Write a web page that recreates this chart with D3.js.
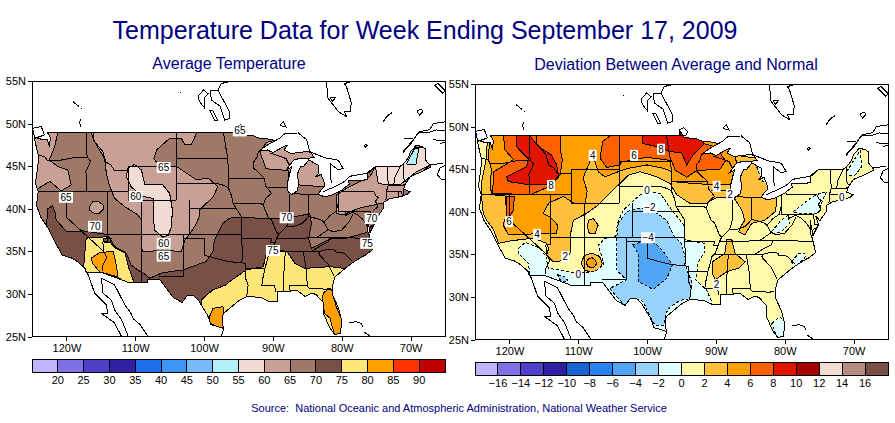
<!DOCTYPE html>
<html><head><meta charset="utf-8">
<style>html,body{margin:0;padding:0;background:#fff}svg{display:block}</style>
<script src="https://cdnjs.cloudflare.com/ajax/libs/d3/7.9.0/d3.min.js"></script>
</head><body><svg id="c" width="895" height="423"></svg>
<script>
// ---------- axis ticks ----------
const lonTicks=[-120,-110,-100,-90,-80,-70];
const latTicks=[25,30,35,40,45,50,55];
// ---------- legends ----------
const tempBreaks=[20,25,30,35,40,45,50,55,60,65,70,75,80,85,90];
const tempColors=["#c0b4ff","#8070e6","#5040c8","#3020a0","#1e6eeb","#3c96f5","#78b9fa","#b4f0fa","#f0dcd2","#c8a096","#a07868","#785046","#ffe678","#ffa000","#ff3200","#c00000"];
const devBreaks=[-16,-14,-12,-10,-8,-6,-4,-2,0,2,4,6,8,10,12,14,16];
const devColors=["#c0b4ff","#8070e6","#5040c8","#3020a0","#1464d2","#2882f0","#50a5f5","#96d2fa","#e1ffff","#fffaaa","#ffc03c","#ffa000","#ff6000","#e11400","#a50000","#f0dcd2","#b48c82","#785046"];
// ---------- geography (lon, lat) ----------
const usOutline=[[-124.7,48.4],[-123.6,48.15],[-122.8,48.1],[-122.5,47.4],[-122.3,48.3],[-122.8,49],[-95.15,49],[-95.15,49.4],[-94.6,48.7],[-93,48.6],[-92,48.3],[-90.8,48.2],[-89.6,48],[-90.6,47.6],[-92.1,46.75],[-90.8,46.9],[-90,46.6],[-88.4,47.3],[-87.9,47.47],[-88.4,46.9],[-87.4,46.5],[-86,46.6],[-85,46.75],[-84.4,46.5],[-84,46],[-84.7,45.95],[-86,45.95],[-87,45.7],[-87.6,45.1],[-88,44.6],[-87.3,44.9],[-87.6,44],[-87.9,43],[-87.8,42],[-87.2,41.65],[-86.5,42.1],[-86.2,43],[-86.5,44],[-86,44.9],[-85.5,45],[-84.8,45.75],[-83.4,45.1],[-83.4,44.1],[-83.9,43.7],[-83,44.05],[-82.5,43],[-82.5,42.6],[-83.1,42.1],[-83.4,41.7],[-82.5,41.4],[-81.5,41.6],[-80,42.2],[-78.9,42.9],[-79,43.3],[-77,43.3],[-76.2,43.5],[-76.3,44.1],[-75,45],[-71.5,45],[-71,45.3],[-70.3,46],[-70,46.7],[-69.2,47.45],[-68.3,47.3],[-67.8,47],[-67.8,45.7],[-67,44.9],[-68.5,44.3],[-70,43.8],[-70.7,43],[-71,42.3],[-70.1,42],[-70.5,41.7],[-71.5,41.4],[-73,41.2],[-74,40.7],[-74,40],[-74.9,38.95],[-75.5,39.5],[-75.1,38.5],[-75.9,37.2],[-76.3,39],[-76.3,37.5],[-76,36.9],[-75.5,35.2],[-76.5,34.6],[-78,33.9],[-79.2,33.2],[-81,32],[-81.4,30.7],[-81.3,29.8],[-80.5,28.4],[-80,26.8],[-80.2,25.4],[-81,25.2],[-81.8,26.1],[-82.7,27.8],[-82.7,29],[-83.7,29.9],[-84.3,30.1],[-85.3,29.7],[-86.5,30.4],[-88,30.3],[-89.3,30.3],[-89.4,29.1],[-90.5,29.1],[-91.8,29.6],[-93.8,29.7],[-94.8,29.3],[-96,28.5],[-97.2,27.7],[-97.4,26.8],[-97.15,25.95],[-99,26.4],[-99.5,27.5],[-100.7,29.1],[-101.5,29.8],[-102.5,29.75],[-103.2,29],[-104.5,29.6],[-106.5,31.75],[-108.2,31.75],[-108.2,31.35],[-111,31.35],[-114.8,32.5],[-117.1,32.5],[-117.3,33],[-118.4,33.8],[-119.2,34.2],[-120.6,34.55],[-121.8,36.3],[-122.5,37.5],[-123.7,39],[-124.35,40.4],[-124.1,42],[-124.5,43],[-124,46],[-124.7,48.4]];
const stateLines=[
[[-124,46.25],[-123.2,46.15],[-122.8,45.7],[-121.2,45.65],[-119.3,45.93],[-119,46],[-116.92,46]],
[[-117.03,49],[-117.04,46.4],[-116.92,46],[-116.5,45.6],[-116.85,44.9],[-117.2,44.4],[-117.03,43.8],[-117.03,42]],
[[-124.2,42],[-111.05,42]],
[[-116.05,49],[-116.05,48],[-114.7,46.7],[-114.3,45.5],[-113.5,45.1],[-113,44.45],[-111.05,44.5]],
[[-111.05,45],[-104.05,45]],[[-111.05,45],[-111.05,41],[-104.05,41]],
[[-104.05,49],[-104.05,41]],
[[-104.05,45.94],[-96.55,45.94]],
[[-104.05,43],[-98.5,43],[-97.5,42.85],[-96.5,42.5]],
[[-102.05,41],[-102.05,37]],[[-102.05,40],[-95.3,40]],
[[-109.05,41],[-109.05,31.33]],[[-114.05,37],[-94.62,37]],[[-114.05,42],[-114.05,36.2],[-114.7,36.1],[-114.6,35],[-114.15,34.3],[-114.7,33.4],[-114.7,32.72]],
[[-120,42],[-120,39],[-114.6,35]],
[[-103,37],[-103,32],[-106.6,32]],
[[-95.3,40],[-94.62,39.1],[-94.62,36.5],[-94.43,35.4],[-94.5,33.65]],
[[-103,36.5],[-100,36.5],[-100,34.56],[-98,34.1],[-96.5,33.8],[-94.5,33.65],[-94.04,33.55],[-94.04,32],[-93.6,31],[-93.8,29.7]],
[[-94.62,36.5],[-90.15,36.5],[-90.37,36],[-89.7,36]],
[[-94.04,33],[-91.15,33]],
[[-91.2,43.5],[-91.1,42.7],[-90.2,41.8],[-91.1,41.2],[-91.4,40.4],[-90.7,39],[-90.2,38.7],[-89.5,37.3],[-89.15,37],[-89.5,36.5],[-89.7,36],[-90.1,35.1],[-90.6,34.7],[-91.15,33],[-91.5,31.7],[-91.6,31],[-89.75,31],[-89.6,30.2]],
[[-96.45,43.5],[-91.2,43.5]],
[[-95.77,40.58],[-91.7,40.6],[-91.4,40.4]],
[[-96.55,45.94],[-96.45,43.5],[-96.5,42.5],[-96,41.5],[-95.77,40.58],[-95.3,40]],
[[-97.2,49],[-96.8,47],[-96.55,45.94]],
[[-92.1,46.75],[-92.3,46.1],[-92.8,45.5],[-92.75,44.75],[-91.2,43.5]],
[[-90.65,42.5],[-87.8,42.5]],
[[-90.4,46.55],[-88.1,45.9],[-87.6,45.1]],
[[-87.53,41.7],[-87.53,39.3],[-88,37.9]],
[[-89.15,37],[-88,37.9],[-87,37.9],[-85.7,38.3],[-84.8,39.1],[-83,38.7],[-82.6,38.4],[-81.7,39.2],[-80.8,39.7],[-80.52,40.64]],
[[-84.8,41.7],[-84.8,39.1]],[[-87.2,41.76],[-84.8,41.7],[-83.4,41.72]],
[[-80.52,42],[-80.52,39.72]],
[[-79.76,42.25],[-79.76,42],[-75.35,42],[-75,41.5],[-74.7,41.35],[-75.1,40.9],[-74.75,40.2],[-75.4,39.8]],
[[-80.52,39.72],[-75.79,39.72],[-75.7,38.46],[-75.05,38.45]],
[[-79.48,39.72],[-79.48,39.2],[-78.4,39.6],[-77.7,39.3],[-77,38.8],[-76.3,38]],
[[-82.6,38.4],[-81.97,37.54],[-81.2,37.3],[-80,37.5],[-79,38.4],[-78.35,39.4]],
[[-81.97,37.54],[-83.68,36.6]],
[[-89.5,36.5],[-88,36.5],[-83.68,36.6],[-81.7,36.59],[-75.9,36.55]],
[[-90.3,35],[-84.3,35],[-83.1,35]],
[[-81.7,36.59],[-82,36.1],[-83,35.7],[-84.3,35]],
[[-83.1,35],[-82.3,35.2],[-81,35.15],[-80.8,34.82],[-79.67,34.8],[-78.55,33.86]],
[[-83.1,35],[-83.35,34.7],[-82,33.5],[-81.1,32.1]],
[[-85.6,34.98],[-85.15,32.8],[-85,31],[-84.86,30.7],[-82.2,30.55],[-81.5,30.7]],
[[-87.6,31],[-85,31]],[[-87.6,31],[-87.5,30.3]],
[[-88.2,35],[-88.45,31.9],[-88.4,30.3]],
[[-73.35,45],[-73.3,43.6],[-73.25,42.75],[-73.5,42.05],[-73.5,41.3],[-73.65,41]],
[[-73.5,42.05],[-71.8,42.02],[-71.35,42],[-71.15,41.5]],
[[-73.25,42.75],[-71.3,42.7],[-70.8,42.87]],
[[-71.5,45],[-72.3,43.7],[-72.46,42.73]],
[[-71.05,45.3],[-71,43.6],[-70.7,43.1]],
[[-71.8,42],[-71.8,41.4]],
[[-75.9,37.95],[-75.25,38.03]]
];
const foreignCoasts=[
[[-117,32.6],[-116.4,31.25],[-115.9,30.1],[-114.2,28.7],[-114,27.7],[-114.9,27.7],[-113,26.6],[-112,25]],
[[-114.9,31.84],[-114.7,30.1],[-113.5,29.3],[-113,28.1],[-112,27],[-111,25]],
[[-114.9,31.84],[-113,31.06],[-111.5,28.7],[-110.6,27.7],[-110.3,27.1],[-109.3,26.4],[-108.15,25]],
[[-97.15,25.95],[-97.5,25]],
[[-78.9,26.6],[-77.9,26.75],[-77.1,26.5],[-77,26.1]],[[-76.7,25.5],[-75.9,25.07]],
[[-124.9,50.2],[-124.9,49.45],[-123.65,49.64],[-123.2,48.66],[-124.6,48.27],[-124.9,49.45]],
[[-119.05,52.57],[-118.2,52.05]],[[-117.85,51.8],[-117.7,51.7]],[[-117.85,50.6],[-118.1,50.2],[-117.9,49.64]],
[[-100.9,53.24],[-100.06,53.94],[-99.4,53.5],[-100,52.97],[-99.9,51.8],[-100.64,52.57],[-100.9,53.24]],
[[-96.5,54.9],[-97.5,54.7],[-98,53.94],[-99.1,53.94],[-98.95,52.77],[-97.7,52.07],[-97,50.4],[-96.3,50.6],[-96.3,51.4],[-98,53.94]],
[[-99.2,51.6],[-98.46,50.4],[-98,50.34],[-98.7,51.5],[-99.2,51.6]],
[[-103.55,53.63],[-103.4,53.6]],
[[-95.3,49.6],[-94.7,49.9],[-94.1,49.4],[-94.4,48.9],[-95.2,48.9],[-95.3,49.6]],
[[-89,49.8],[-88.5,50.2],[-88.1,49.6],[-89,49.8]],
[[-82.23,54.9],[-82,53],[-80.5,51.4],[-79.3,50.8],[-79.6,51.4],[-78.8,51.4],[-78.6,52.4],[-79.3,54.3],[-79.6,54.7],[-78.7,54.9]],
[[-81.7,53],[-80.9,53.1],[-81.3,52.6],[-81.7,53]],
[[-66.5,54.5],[-65.3,53.55],[-65,53.9],[-66,54.7],[-66.5,54.5]],
[[-74,50.2],[-73.5,50.8],[-72.7,51.3],[-73.4,50.9],[-74,50.2]],
[[-69.1,51.5],[-68.4,51.7],[-68.2,51.4],[-68.7,51],[-69.1,51.5]],
[[-76.7,47.4],[-76.5,47.6],[-76.3,47.4],[-76.5,47.2],[-76.7,47.4]],
[[-71.1,46.7],[-69.6,48.1],[-68.7,49.05],[-67.2,49.3],[-66.7,50],[-65,50.2]],
[[-71.1,46.6],[-70,47.6],[-68.9,48.9],[-67.2,49],[-66.3,49.25],[-65,49.2]],
[[-70.9,48.3],[-69.7,48.3]],[[-66.7,48.1],[-65,47.95]],[[-65.8,47.7],[-65,47.75]],
[[-67.2,45.14],[-65.3,45.34]],[[-65,45.1],[-65.75,44.75],[-66.1,44],[-65.5,43.4],[-65,43.45]],
[[-89.6,48],[-89,48.3],[-88.3,48.8],[-86.3,48.9],[-85.1,48.1],[-84.65,46.7],[-82.5,46],[-80.5,45.7],[-79.8,44.75],[-80.5,44.55],[-81.7,45.3],[-81.7,44.16],[-81.5,43]],
[[-82.7,42],[-81,42.6],[-79.6,43.2],[-78.9,43.8],[-76.4,44.15],[-75.45,44.75],[-75.1,44.95]]
];
// ---------- average temperature contours (band floor, lon/lat ring) ----------
const avg60North=[[-116.6,49.2],[-115.66,47.49],[-114.45,45.92],[-114.2,44.16],[-113.7,42.6],[-113,41.23],[-111.54,40.25],[-109.6,39.27],[-109.1,38.7],[-109.1,37.5],[-109.1,35.56],[-108.9,34.97],[-106,35.1],[-103.3,35],[-102.8,36.3],[-101.85,37.3],[-101.1,38.3],[-100.6,39.3],[-100.6,39.9],[-98.7,41.4],[-98,42.6],[-99.4,43.6],[-101.1,43.4],[-102.6,44.2],[-104,44.95],[-106.45,44.95],[-107.3,45.9],[-106.9,46.9],[-105,48.27],[-103.3,48.27],[-102.8,47.5],[-101.85,47.5],[-101.1,48.9],[-101,49.2]];
const avg55Rockies=[[-111.05,44.75],[-110.1,45.2],[-109.1,44.55],[-108.6,42.8],[-106,42.8],[-105,41.8],[-104.6,39.86],[-104.75,37.9],[-105.2,36.9],[-106,36.65],[-107.2,37.5],[-107.4,39.5],[-107.4,41.2],[-109.1,41.5],[-110.6,42.6],[-111.3,43.8]];
const avg60West=[[-121.2,49.2],[-121.7,47.3],[-122.5,45.7],[-121.2,44.95],[-119.8,44.55],[-119.3,42.8],[-120.75,42.1],[-122.4,43.2],[-124.1,42.4],[-125.3,41.8],[-126,49.2]];
const avg60Oval=[[-116.7,40.2],[-116.2,40.8],[-115.5,40.9],[-114.7,40.5],[-114.6,40],[-115.2,39.5],[-116,39.5],[-116.6,39.8]];
const avg60Lakes=[[-91.9,46.7],[-90.9,47.8],[-88.5,48.3],[-84,46.5],[-82,43],[-82,42.6],[-83,42.6],[-86.3,42.8],[-87,42.8],[-87.8,42.5],[-87.8,44.5],[-88,44.5],[-91,44.7]];
const avg60East=[[-80.8,39.47],[-80.8,41.6],[-79.3,42.4],[-75.93,43.77],[-75.1,44.95],[-71.1,45.14],[-67.2,45.14],[-69.15,43.77],[-70.85,42.8],[-71.1,41.23],[-74.2,40.64],[-77.6,40.05],[-79.8,39.27]];
const avg55East=[[-75.1,44.95],[-71.1,45.14],[-69.6,47.2],[-67.7,47.2],[-67.2,45.14],[-69.15,44.35],[-70.6,43.4],[-71.6,42.8],[-73.5,42.8],[-74.7,43]];
const avg50Maine=[[-70.6,45.26],[-69.4,47.1],[-68.8,47.1],[-69.25,45.14]];
const avg70West=[[-122.05,40.35],[-121.57,39.47],[-121.5,38.7],[-120,37.3],[-117.6,37.4],[-114.2,37],[-113.7,36.5],[-113,35.56],[-111.3,34.8],[-110.6,33.4],[-109.6,32.8],[-108.4,32.2],[-107.9,31.84],[-107.9,30],[-115,30],[-120,33],[-123,37],[-122.7,40]];
const avg70East=[[-107.9,31.84],[-106,32.5],[-103.1,32.8],[-99.7,33.8],[-98.7,35],[-98.5,36.3],[-97.25,38.3],[-96.3,38.9],[-94.6,39],[-90,38.8],[-88,38.9],[-84.65,39.4],[-84.4,38.3],[-84.8,36.5],[-84.4,35.36],[-81.5,36.5],[-79.6,36.5],[-76.4,37.2],[-75.7,37.9],[-74,37.5],[-74,28],[-90,24],[-107,26]];
const avg75South=[[-100.4,29.3],[-98.7,30.5],[-96.8,31.05],[-96.28,31.45],[-93.9,32.8],[-91.4,33.2],[-91,34.6],[-90.2,35.2],[-88,35],[-86.8,33.6],[-85.4,33],[-81.75,33.2],[-79.6,33],[-79.3,32.8],[-78,31],[-79,24],[-90,24],[-100,25]];
const avg75Desert=[[-117.2,36.3],[-116.9,36.6],[-114.2,36.7],[-113,35.4],[-111.5,34.8],[-111,33.2],[-110.1,31.2],[-111.4,31.2],[-112.5,32],[-115.2,32.2],[-117.6,32.2],[-117.35,34.4]];
const avg80Desert=[[-116.4,34.2],[-115.2,34.85],[-113.2,35],[-112.75,33.4],[-112.5,32],[-115.2,32.6],[-116.2,33.6]];
const avg80Florida=[[-82.7,30.1],[-82,30.55],[-81.5,30.55],[-80.8,28.5],[-79.8,26.6],[-80,25],[-81,25],[-81.7,27.15],[-82.5,27.7],[-82.8,29.3]];
const avg80Texas=[[-99.2,27.35],[-98.7,28.3],[-97.25,28.5],[-97,26],[-98.45,26.2],[-99.2,26.75]];
const avg70Spot=[[-114.6,36.5],[-113.5,36.5],[-113.7,36],[-114.5,36]];
const avgContours=[[60,avg60North],[55,avg55Rockies],[60,avg60West],[60,avg60Oval],[60,avg60Lakes],[60,avg60East],[55,avg55East],[50,avg50Maine],[70,avg70West],[70,avg70East],[75,avg75South],[75,avg75Desert],[80,avg80Desert],[80,avg80Florida],[80,avg80Texas],[70,avg70Spot]];
const avgBase=65;
const avgLabels=[[65,-105.87,44.9],[65,-120.06,41.4],[60,-109.93,41.5],[70,-115.85,38],[60,-105.87,36],[65,-105.87,34.5],[70,-88,39],[75,-90,35.15],[70,-75.65,38.9],[75,-76.3,36],[65,-94.8,49.2]];
// ---------- deviation contours ----------
const dev2North=[[-123.2,49.2],[-123.3,46.5],[-124,43.7],[-124,41.4],[-123.8,39.8],[-123.3,39],[-122.3,37.9],[-121.6,36.3],[-119.7,36.6],[-116.5,36.9],[-114.6,36.3],[-114.3,35.7],[-114.6,34.9],[-113.6,34.1],[-111.9,34.3],[-111.1,35.3],[-111.1,37.5],[-110.7,39],[-108.8,39.8],[-107.1,40.8],[-105.4,42.2],[-103.9,43.35],[-102.7,44.3],[-101,44.7],[-98.6,44.1],[-96.7,43.35],[-95.7,42],[-93.8,41],[-91.35,41],[-90.1,41.6],[-87.5,41.8],[-86.25,40.2],[-85.8,39],[-86.26,38.45],[-86.7,37.66],[-85.8,37.27],[-84.8,38.64],[-82.9,39],[-81.4,40],[-81.27,40.6],[-81.17,41.4],[-81.5,42],[-82.4,43],[-82.4,43.4],[-83.35,44.5],[-83.2,45.3],[-84.3,46.3],[-86.75,46.6],[-89.2,48.25],[-89,49.2]];
const dev4North=[[-122.8,49.2],[-123.06,46.3],[-122.6,44.9],[-122.8,43.35],[-122.6,42],[-120.6,41.85],[-120.4,39.8],[-120.9,38.45],[-120.15,37.27],[-116.5,37.4],[-113.13,37.5],[-113,38.45],[-114.1,39.4],[-115.1,39.8],[-114.3,41],[-112.2,41.8],[-110.6,41],[-109,41],[-108.7,42.4],[-109.3,43.95],[-107.9,46.7],[-107.1,44.7],[-106.1,44.1],[-104.2,44.7],[-102.7,45.1],[-100,45.5],[-97.6,45.1],[-96.4,44.7],[-96.43,43.55],[-93.76,43.35],[-90.13,43.15],[-87.95,43.15],[-86.74,44.9],[-87.23,46.5],[-88.7,48.25],[-88.7,49.2]];
const dev6West=[[-120.9,49.2],[-120.64,47.27],[-119.4,46.1],[-122.3,44.7],[-122.43,42.17],[-117,42],[-114.1,43],[-112.65,44.3],[-112.3,46.1],[-112.65,47.5],[-112.55,49.2]];
const dev8West=[[-118.9,49.2],[-119,47.66],[-117.25,46.2],[-117.5,45.3],[-120.4,44.1],[-120.15,43.55],[-117,43.15],[-113.9,43.15],[-112.9,44.2],[-113.13,45.5],[-113.9,46.7],[-115.55,47.5],[-116.8,48.6],[-117,49.2]];
const dev6East=[[-104.9,49.2],[-106.45,48.25],[-106.84,46.3],[-105.87,45.2],[-103.93,45.5],[-103.93,45.8],[-100.06,46.4],[-96.43,46],[-95.94,44.9],[-94.25,44.05],[-92.8,44.83],[-89.4,45],[-88.6,46],[-89.4,46.9],[-90.6,47.74],[-91.83,48],[-92,49.2]];
const dev8East=[[-100.6,49.2],[-100.6,48],[-98.6,47.66],[-96.67,47.07],[-94.97,46.9],[-94.25,45.5],[-93.28,46.7],[-91.83,47.86],[-91.8,49.2]];
const dev6Sierra=[[-120.4,41.8],[-119.3,41.8],[-119.4,40.2],[-120,39.4],[-120.5,39.4]];
const dev2Ridge=[[-108.5,39],[-107.8,39.2],[-107.1,38.45],[-107.56,37.46],[-108.4,37.46],[-108.7,38.25]];
const dev2Ring=[[-109.6,34],[-109.1,34.85],[-108,35.15],[-106.9,34.75],[-106.5,33.9],[-107,33.1],[-108.1,32.85],[-109.1,33.2]];
const dev4Ring=[[-108.85,34],[-108.5,34.5],[-108,34.6],[-107.5,34.3],[-107.35,33.9],[-107.7,33.5],[-108.1,33.4],[-108.6,33.6]];
const dev2Tennessee=[[-90.5,34.13],[-88.7,35.1],[-88.44,36.7],[-87.7,36.76],[-87.2,35.1],[-85.77,34.13],[-86.74,33.35],[-88.34,33],[-90.13,32],[-90.5,32.76]];
const devM2South=[[-118.7,35.7],[-117.7,36.4],[-115.55,35.7],[-114.7,34.7],[-114.34,33.35],[-111.9,33.07],[-110,32.76],[-107.56,33],[-106.25,33.74],[-107.08,36.1],[-106.1,36.88],[-104.66,37.07],[-104.2,38.84],[-103.45,40.2],[-101,42],[-100,42.4],[-98.1,42.17],[-96.43,40.2],[-95.2,39],[-94.5,38.25],[-94.5,36.7],[-91.6,36.3],[-91.6,35.3],[-92.55,34.13],[-92.9,32],[-91.34,30.8],[-90.6,29.4],[-91,28],[-97,25],[-100,27],[-105,29],[-107,31],[-112,31],[-115,32.3],[-117,32.5],[-117.25,33.93],[-118.7,35.1]];
const devM2Virginia=[[-81.9,37.66],[-80.7,38.84],[-79.5,39.6],[-79.3,38.64],[-80.45,37.66],[-81.65,37.46]];
const devM2Carolina=[[-79,34.13],[-78,35.1],[-77.06,35.1],[-77,34.7],[-78.5,33.4]];
const devM2Florida=[[-81.9,26.87],[-80.7,27.66],[-79.8,26.87],[-79.8,25],[-81,25]];
const devM2Penn=[[-78.75,40],[-76.6,41.4],[-75.4,42],[-73.9,42.4],[-74.4,41.6],[-75.1,39.8],[-78,39.8]];
const devM2Maine=[[-71,44.7],[-69.06,47.2],[-68.8,45.3],[-69.8,44.3],[-71,44.3]];
const devM2Huron=[[-84.2,45.6],[-83.2,45.2],[-82.4,43.2],[-83.4,43.7]];
const devM4Plains=[[-104.2,38.64],[-103,40],[-101.3,40.4],[-99.6,40.4],[-97.15,39],[-96.2,37.27],[-95,36.3],[-94.5,34.7],[-94.25,33.15],[-93.5,31.8],[-93.8,29.8],[-95.2,29.6],[-96.67,28.8],[-97.15,28.25],[-97.6,26.7],[-98.85,26.7],[-99.3,27.25],[-100.3,29],[-101,29.8],[-103.2,29],[-104.4,30],[-105.4,31],[-103,32],[-104.4,33.15],[-104.4,37.07]];
const devM4Border=[[-113,32.6],[-112,32.4],[-111.5,31.9],[-112.5,31.8]];
const devM6Core=[[-102.1,36.1],[-100.8,36.5],[-98.85,36.3],[-97.6,35.3],[-96.3,33.74],[-97.15,32.17],[-99.1,30.88],[-101.3,31.8],[-101.3,35.1]];
const devContours=[[2,dev2North],[4,dev4North],[6,dev6West],[8,dev8West],[6,dev6East],[8,dev8East],[6,dev6Sierra],[2,dev2Ridge],[2,dev2Ring],[4,dev4Ring],[2,dev2Tennessee],[-2,devM2South],[-2,devM2Virginia],[-2,devM2Carolina],[-2,devM2Florida],[-2,devM2Penn],[-2,devM2Maine],[-2,devM2Huron],[-4,devM4Plains],[-4,devM4Border],[-6,devM6Core]];
const devBase=0;
const devLabels=[[8,-113.96,43.15],[4,-107.9,46.68],[6,-101.9,46.68],[8,-97.98,47.4],[0,-100,42.56],[-2,-99.58,40.56],[4,-89.9,43.03],[2,-87.95,42.1],[6,-120.06,38.9],[4,-116,37.4],[2,-111.9,34.8],[0,-110,32.7],[-4,-99.86,37],[2,-89.9,31.5],[0,-71.7,41.7]];

const svg=d3.select("#c");
const NAVY="#000080",FONT="'Liberation Sans',Arial,sans-serif";
const fmt=v=>String(v).replace("-","\u2212");

svg.append("text").attr("x",425).attr("y",39).attr("text-anchor","middle").attr("font-family",FONT).attr("font-size",25).attr("fill",NAVY).text("Temperature Data for Week Ending September 17, 2009");
svg.append("text").attr("x",229).attr("y",69).attr("text-anchor","middle").attr("font-family",FONT).attr("font-size",16).attr("fill",NAVY).text("Average Temperature");
svg.append("text").attr("x",676).attr("y",70).attr("text-anchor","middle").attr("font-family",FONT).attr("font-size",16).attr("fill",NAVY).text("Deviation Between Average and Normal");
svg.append("text").attr("x",459).attr("y",412).attr("text-anchor","middle").attr("font-family",FONT).attr("font-size",11).attr("fill",NAVY).attr("xml:space","preserve").style("white-space","pre").text("Source:  National Oceanic and Atmospheric Administration, National Weather Service");

function panel(id,box,breaks,colors,base,contours,labels,legY,negDash){
  const x=d3.scaleLinear().domain([-125,-65]).range([box.l,box.r]);
  const y=d3.scaleLinear().domain([25,55]).range([box.b,box.t]);
  const color=d3.scaleThreshold().domain(breaks).range(colors);
  const line=d3.line().x(d=>x(d[0])).y(d=>y(d[1]));
  const ring=d3.line().x(d=>x(d[0])).y(d=>y(d[1])).curve(d3.curveLinearClosed);
  const g=svg.append("g");
  svg.append("clipPath").attr("id","us"+id).append("path").attr("d",ring(usOutline)).attr("shape-rendering","crispEdges");
  svg.append("clipPath").attr("id","pb"+id).append("rect").attr("x",box.l).attr("y",box.t).attr("width",box.r-box.l).attr("height",box.b-box.t);
  const land=g.append("g").attr("clip-path",`url(#us${id})`);
  land.append("path").attr("d",ring(usOutline)).attr("fill",color(base));
  land.selectAll("path.c").data(contours).join("path").attr("class","c")
    .attr("d",d=>ring(d[1])).attr("fill",d=>color(d[0])).attr("stroke","#000").attr("stroke-width",1)
    .attr("stroke-dasharray",d=>negDash&&d[0]<0?"3,2":null).attr("shape-rendering","crispEdges");
  const geo=g.append("g").attr("clip-path",`url(#pb${id})`).attr("fill","none").attr("stroke","#000").attr("stroke-width",1).attr("shape-rendering","crispEdges");
  geo.selectAll("path.s").data(stateLines).join("path").attr("class","s").attr("d",line);
  geo.selectAll("path.f").data(foreignCoasts).join("path").attr("class","f").attr("d",line);
  geo.append("path").attr("d",ring(usOutline));
  // contour labels
  const lb=g.selectAll("g.l").data(labels).join("g").attr("class","l").attr("transform",d=>`translate(${x(d[1])},${y(d[2])})`);
  lb.append("rect").attr("x",d=>d[0]>=10||d[0]<0?-7:-4).attr("y",-5).attr("width",d=>d[0]>=10||d[0]<0?14:8).attr("height",11).attr("fill","#fff");
  lb.append("text").attr("text-anchor","middle").attr("y",4).attr("font-family",FONT).attr("font-size",10).attr("fill","#000").text(d=>fmt(d[0]));
  // frame & axes
  g.append("rect").attr("x",box.l).attr("y",box.t).attr("width",box.r-box.l).attr("height",box.b-box.t).attr("fill","none").attr("stroke","#000").attr("stroke-width",1).attr("shape-rendering","crispEdges");
  const ax=g.append("g").attr("transform",`translate(0,${box.b})`).call(d3.axisBottom(x).tickValues(lonTicks).tickSize(4).tickPadding(4).tickFormat(d=>Math.abs(d)+"W"));
  const ay=g.append("g").attr("transform",`translate(${box.l},0)`).call(d3.axisLeft(y).tickValues(latTicks).tickSize(4).tickPadding(2).tickFormat(d=>d+"N"));
  [ax,ay].forEach(a=>{a.select(".domain").remove();a.selectAll("line").attr("stroke","#000").attr("shape-rendering","crispEdges");a.selectAll("text").attr("font-family",FONT).attr("font-size",11).attr("fill","#000");});
  // legend
  const band=d3.scaleBand().domain(d3.range(colors.length)).range([box.l,box.r]);
  const lg=g.append("g");
  lg.selectAll("rect").data(colors).join("rect").attr("x",(d,i)=>band(i)).attr("y",legY).attr("width",band.bandwidth()).attr("height",13.5).attr("fill",d=>d).attr("stroke","#000").attr("stroke-width",1).attr("shape-rendering","crispEdges");
  lg.selectAll("text").data(breaks).join("text").attr("x",(d,i)=>band(i)+band.bandwidth()).attr("y",legY+25).attr("text-anchor","middle").attr("font-family",FONT).attr("font-size",11).attr("fill","#000").text(fmt);
}
panel("A",{l:32,r:445,t:81,b:336.5},tempBreaks,tempColors,avgBase,avgContours,avgLabels,359,false);
panel("B",{l:475,r:888,t:84,b:339.5},devBreaks,devColors,devBase,devContours,devLabels,362,true);
</script></body></html>
